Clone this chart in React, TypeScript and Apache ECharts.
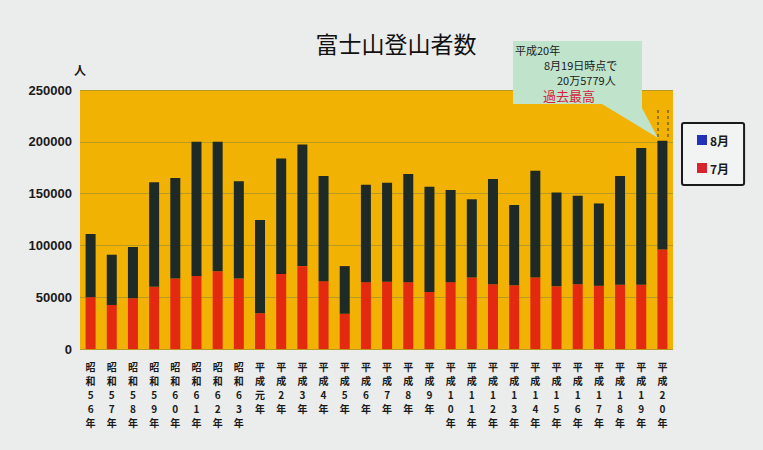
import React, { useEffect, useRef } from "react";
import * as echarts from "echarts";

const categories = [
  "昭和56年", "昭和57年", "昭和58年", "昭和59年", "昭和60年", "昭和61年", "昭和62年", "昭和63年",
  "平成元年", "平成2年", "平成3年", "平成4年", "平成5年", "平成6年", "平成7年", "平成8年",
  "平成9年", "平成10年", "平成11年", "平成12年", "平成13年", "平成14年", "平成15年", "平成16年",
  "平成17年", "平成18年", "平成19年", "平成20年",
];

const july = [
  50000, 42500, 49000, 60000, 68000, 70500, 75000, 68000,
  34500, 72500, 80000, 65500, 34000, 64500, 65000, 64500,
  55000, 64500, 69000, 62500, 61500, 69000, 60500, 62500,
  61000, 62000, 62000, 96000,
];

const august = [
  61000, 48500, 49500, 101000, 97000, 129500, 125000, 94000,
  90000, 111500, 117500, 101500, 46000, 94000, 95500, 104500,
  101500, 89000, 75500, 101500, 77500, 103000, 90500, 85500,
  79500, 105000, 132000, 105000,
];

const yTicks = [0, 50000, 100000, 150000, 200000, 250000];

const title = "富士山登山者数";
const unit = "人";
const calloutLines = ["平成20年", "8月19日時点で", "20万5779人"];
const calloutRed = "過去最高";

export default function App() {
  const ref = useRef<HTMLDivElement>(null);

  useEffect(() => {
    if (!ref.current) return;
    const chart = echarts.init(ref.current, null, { renderer: "svg" });
    const cjk = '"Noto Sans CJK JP", "Noto Sans", sans-serif';
    chart.setOption({
      animation: false,
      backgroundColor: "#EBECEC",
      title: {
        text: title,
        left: 391,
        top: 26,
        textAlign: "center",
        textStyle: { fontFamily: cjk, fontSize: 23, fontWeight: "normal", color: "#111" },
      },
      legend: {
        orient: "vertical",
        left: 682,
        top: 123,
        padding: [11, 15, 11, 15],
        itemGap: 16,
        itemWidth: 10,
        itemHeight: 10,
        icon: "rect",
        borderColor: "#1a1a1a",
        borderWidth: 2,
        borderRadius: 2,
        backgroundColor: "#F2F3F3",
        textStyle: { fontFamily: cjk, fontSize: 12, fontWeight: "bold", color: "#1a1a1a", padding: [0, 0, 0, -2] },
        data: [
          { name: "8月", itemStyle: { color: "#2233B8" } },
          { name: "7月", itemStyle: { color: "#D8242C" } },
        ],
      },
      grid: {
        left: 80,
        right: 90,
        top: 90,
        bottom: 101,
        show: true,
        backgroundColor: "#F1B203",
        borderWidth: 0,
      },
      xAxis: {
        type: "category",
        data: categories,
        axisLine: { show: false },
        axisTick: { show: false },
        axisLabel: {
          interval: 0,
          margin: 10,
          fontFamily: cjk,
          fontSize: 10,
          fontWeight: "bold",
          lineHeight: 14,
          color: "#1a1a1a",
          formatter: (v: string) => v.split("").join("\n"),
        },
      },
      yAxis: {
        type: "value",
        min: yTicks[0],
        max: yTicks[yTicks.length - 1],
        interval: 50000,
        axisLine: { show: false },
        axisTick: { show: false },
        splitLine: { lineStyle: { color: "#B79A22", width: 1 } },
        axisLabel: {
          margin: 8,
          fontFamily: '"Liberation Sans", Arial, sans-serif',
          fontSize: 13,
          fontWeight: "bold",
          color: "#1a1a1a",
          formatter: (v: number) => String(v),
        },
      },
      series: [
        {
          name: "7月",
          type: "bar",
          stack: "total",
          barWidth: 10,
          data: july,
          itemStyle: { color: "#E3290F" },
        },
        {
          name: "8月",
          type: "bar",
          stack: "total",
          barWidth: 10,
          data: august,
          itemStyle: { color: "#1D2A26" },
        },
      ],
      graphic: [
        {
          type: "text",
          left: 74,
          top: 63,
          z: 100,
          style: { text: unit, fontFamily: cjk, fontSize: 12, fontWeight: "bold", fill: "#1a1a1a" },
        },
        {
          type: "polygon",
          z: 100,
          shape: {
            points: [
              [513, 41], [642, 41], [642, 108], [658, 138], [602, 104], [513, 104],
            ],
          },
          style: { fill: "#BFE3CB" },
        },
        {
          type: "line",
          z: 100,
          shape: { x1: 658, y1: 110, x2: 658, y2: 140 },
          style: { stroke: "#3a3a2a", lineWidth: 1, lineDash: [3, 3] },
        },
        {
          type: "line",
          z: 100,
          shape: { x1: 668, y1: 110, x2: 668, y2: 140 },
          style: { stroke: "#3a3a2a", lineWidth: 1, lineDash: [3, 3] },
        },
        {
          type: "text",
          left: 515,
          top: 43,
          z: 101,
          style: { text: calloutLines[0], fontFamily: cjk, fontSize: 11, lineHeight: 13, fill: "#1a1a1a" },
        },
        {
          type: "text",
          left: 544,
          top: 58,
          z: 101,
          style: { text: calloutLines[1], fontFamily: cjk, fontSize: 11, lineHeight: 13, fill: "#1a1a1a" },
        },
        {
          type: "text",
          left: 557,
          top: 73,
          z: 101,
          style: { text: calloutLines[2], fontFamily: cjk, fontSize: 11, lineHeight: 13, fill: "#1a1a1a" },
        },
        {
          type: "text",
          left: 543,
          top: 88,
          z: 101,
          style: { text: calloutRed, fontFamily: cjk, fontSize: 13, lineHeight: 15, fill: "#D8203E" },
        },
      ],
    });
    return () => chart.dispose();
  }, []);

  return (
    <div
      ref={ref}
      style={{ position: "fixed", left: 0, top: 0, width: 763, height: 450 }}
    />
  );
}
